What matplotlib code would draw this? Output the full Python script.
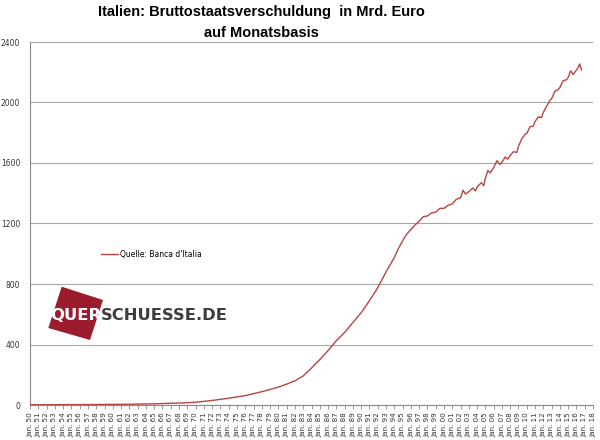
import numpy as np
import matplotlib
matplotlib.use('Agg')
import matplotlib.pyplot as plt
from matplotlib.patches import Polygon

# Bruttostaatsverschuldung Italien, Mrd. Euro
years = [1950, 1955, 1960, 1962, 1965, 1968, 1970, 1972, 1974, 1976,
         1978, 1980, 1981, 1982, 1983, 1984, 1985, 1986, 1987, 1988,
         1989, 1990, 1991, 1992, 1993, 1994, 1994.5, 1995, 1995.5, 1996,
         1996.5, 1997, 1997.5, 1998, 1998.5, 1999, 1999.5, 2000, 2000.5, 2001,
         2001.5, 2002, 2002.3, 2002.6, 2003, 2003.5, 2003.8, 2004, 2004.5, 2004.8,
         2005, 2005.3, 2005.6, 2006, 2006.4, 2006.8, 2007, 2007.4, 2007.7, 2008,
         2008.4, 2008.8, 2009, 2009.4, 2009.8, 2010, 2010.4, 2010.8, 2011, 2011.4,
         2011.8, 2012, 2012.4, 2012.8, 2013, 2013.4, 2013.8, 2014, 2014.4, 2014.8,
         2015, 2015.3, 2015.6, 2016, 2016.2, 2016.4, 2016.6]
debt = [1.5, 2.5, 4, 5, 8, 13, 18, 30, 45, 62,
        88, 118, 138, 160, 192, 245, 300, 360, 425, 480,
        545, 610, 690, 775, 880, 975, 1035, 1085, 1130, 1160,
        1190, 1215, 1245, 1250, 1270, 1275, 1300, 1300, 1320, 1330,
        1360, 1370, 1420, 1395, 1410, 1435, 1415, 1440, 1470, 1450,
        1500, 1550, 1535, 1570, 1615, 1590, 1605, 1640, 1625, 1650,
        1675, 1670, 1710, 1760, 1790, 1795, 1840, 1845, 1875, 1905,
        1900, 1935, 1975, 2015, 2025, 2075, 2085, 2100, 2145, 2150,
        2165, 2210, 2185, 2215, 2230, 2255, 2215]

tick_years = list(range(1950, 2019))
tick_labels = ['Jan. %02d' % (y % 100) for y in tick_years]
y_ticks = [0, 400, 800, 1200, 1600, 2000, 2400]

W, H = 600, 440
fig = plt.figure(figsize=(6, 4.4), dpi=100)
ax = fig.add_axes([30 / W, 1 - 405 / H, 563 / W, 363 / H])

ax.plot(years, debt, color='#b8453f', lw=1.0, label="Quelle: Banca d'Italia", zorder=3)

ax.set_xlim(1950, 2018)
ax.set_ylim(0, 2400)
ax.set_yticks(y_ticks)
ax.set_yticklabels([str(v) for v in y_ticks], fontsize=5.5, color='#333333')
ax.set_xticks(tick_years)
ax.set_xticklabels(tick_labels, rotation=90, fontsize=5.2, color='#333333')
ax.tick_params(axis='y', length=0, pad=7)
ax.tick_params(axis='x', length=3, width=0.6, color='#888888', pad=2)
ax.grid(axis='y', color='#a6a6a6', lw=0.8)
ax.set_axisbelow(True)
for s in ['top', 'right']:
    ax.spines[s].set_visible(False)
for s in ['left', 'bottom']:
    ax.spines[s].set_color('#888888')
    ax.spines[s].set_linewidth(0.8)

ax.legend(loc='center left', bbox_to_anchor=(64 / 563, (405 - 254) / 363),
          frameon=False, fontsize=5.5, handlelength=2.2, handletextpad=0.3)

# title, two lines
for txt, yp in [('Italien: Bruttostaatsverschuldung  in Mrd. Euro', 12),
                ('auf Monatsbasis', 33)]:
    fig.text(261 / W, 1 - yp / H, txt, ha='center', va='center', fontsize=10.5,
             fontweight='heavy', family='Liberation Sans')

# logo: tilted red square + text
corners = [(61.7, 286.7), (103, 300), (90, 340), (48.3, 328)]
poly = Polygon([(x / W, 1 - y / H) for x, y in corners], closed=True,
               transform=fig.transFigure, facecolor='#9b1c2c', edgecolor='none', zorder=5)
fig.patches.append(poly)
logo_fs = 11.8
fig.text(50 / W, 1 - 316 / H, 'QUER', color='white', fontsize=logo_fs, fontweight='bold',
         va='center', ha='left', zorder=6)
t = fig.text(0, 0, 'QUER', fontsize=logo_fs, fontweight='bold')
fig.canvas.draw()
quer_w = t.get_window_extent().width
t.remove()
fig.text((50 + quer_w) / W, 1 - 316 / H, 'SCHUESSE.DE', color='#3d3d3d', fontsize=logo_fs,
         fontweight='bold', va='center', ha='left', zorder=6)

fig.savefig('out.png', dpi=100)
